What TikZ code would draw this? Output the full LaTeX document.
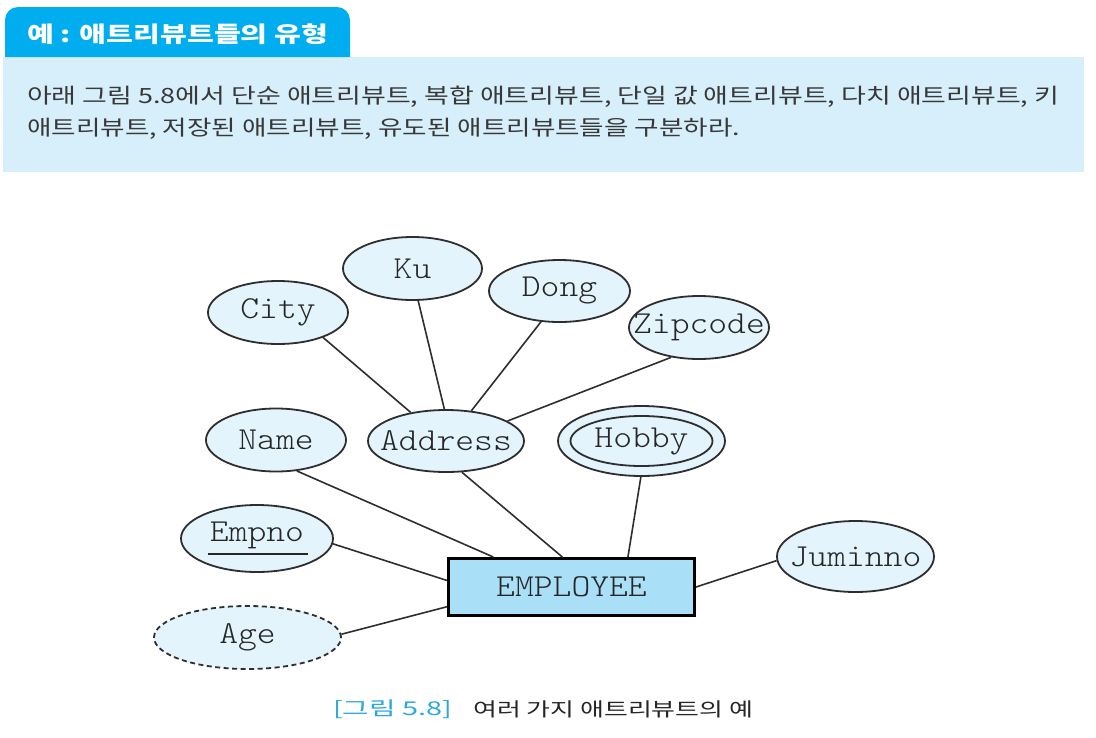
\documentclass[tikz,border=0pt]{standalone}
\usepackage{fontspec}
\usepackage{graphicx}
\usetikzlibrary{shapes.geometric}
\newfontfamily\kr{Noto Sans CJK KR}
\newfontfamily\erfont{lmmonolt10-regular.otf}[FakeStretch=1.12]
\newcommand\zw[1]{\makebox[0pt]{#1}}
\definecolor{tabblue}{HTML}{00AEEF}
\definecolor{boxblue}{HTML}{D6EFFB}
\definecolor{attrfill}{HTML}{E3F4FD}
\definecolor{entfill}{HTML}{A9DFF7}
\definecolor{edgecol}{HTML}{2E2E2E}
\definecolor{txtcol}{HTML}{383838}
\definecolor{capblue}{HTML}{29A8E0}
\begin{document}
\begin{tikzpicture}[x=1pt,y=-1pt,
  attr/.style={ellipse, draw=edgecol, line width=1.8pt, fill=attrfill, inner sep=0pt,
    font=\erfont\fontsize{32}{36}\selectfont, text=black!85},
  multi/.style={attr},
  derived/.style={attr, dash pattern=on 5pt off 3.5pt},
  entity/.style={rectangle, draw=black, line width=3pt, fill=entfill, inner sep=0pt,
    minimum width=246pt, minimum height=57pt, font=\erfont\fontsize{32}{36}\selectfont, text=black!85},
  conn/.style={draw=edgecol, line width=1.6pt},
  krtext/.style={inner sep=0pt, anchor=west, text=txtcol}
]
\useasboundingbox (0,0) rectangle (1096,737);

% header
\fill[boxblue] (3,57) rectangle (1084,172);
\fill[tabblue] (5,57) [rounded corners=13pt] -- (5,7) -- (350,7) [sharp corners] -- (350,57) -- cycle;
\node[krtext, text=white] (title) at (27,34)
  {\resizebox{301pt}{\height}{\kr\bfseries\fontsize{22}{26}\selectfont 예 : 애트리뷰트들의 유형}};
\node[krtext] (line1) at (27,97)
  {\resizebox{1032pt}{\height}{\kr\fontsize{21}{25}\selectfont 아래 그림 5.8에서 단순 애트리뷰트, 복합 애트리뷰트, 단일 값 애트리뷰트, 다치 애트리뷰트, 키}};
\node[krtext] (line2) at (27,129)
  {\resizebox{713pt}{\height}{\kr\fontsize{21}{25}\selectfont 애트리뷰트, 저장된 애트리뷰트, 유도된 애트리뷰트들을 구분하라.}};

% entity
\node[entity] (emp) at (571.5,587) {EMPLOYEE};

% attributes
\node[attr, minimum width=140pt, minimum height=63pt] (city) at (278,312.5) {\zw{City}};
\node[attr, minimum width=139pt, minimum height=63pt] (ku) at (412.5,268.5) {\zw{Ku}};
\node[attr, minimum width=141pt, minimum height=62pt] (dong) at (559.5,291) {\zw{Dong}};
\node[attr, minimum width=140pt, minimum height=63pt] (zip) at (699,327.5) {\zw{Zipcode}};
\node[attr, minimum width=140pt, minimum height=63pt] (name) at (276,440) {\zw{Name}};
\node[attr, minimum width=156pt, minimum height=62pt] (addr) at (446,441) {\zw{Address}};
\node[multi, minimum width=167pt, minimum height=70pt] (hobby) at (641.5,441) {\zw{Hobby}};
\node[ellipse, draw=edgecol, line width=1.8pt, inner sep=0pt, minimum width=142pt, minimum height=50pt] (hobbyin) at (hobby.center) {};
\node[attr, minimum width=152pt, minimum height=67pt] (empno) at (257,538.5)
  {\zw{\rlap{\hspace{-2pt}\raisebox{-13pt}{\rule{100pt}{1.8pt}}}Empno}};
\node[derived, minimum width=187pt, minimum height=63pt] (age) at (247.5,637.5) {\zw{Age}};
\node[attr, minimum width=157pt, minimum height=71pt] (jumin) at (855.5,556.5) {\zw{Juminno}};

% connectors
\draw[conn] (city.-29.5) -- (addr.141);
\draw[conn] (ku.-80) -- (addr.93.5);
\draw[conn] (dong.-121.8) -- (addr.50);
\draw[conn] (zip.-133.6) -- (addr.18);
\draw[conn] (name.-56.3) -- (emp.159.8);
\draw[conn] (addr.-63.4) -- (emp.107.6);
\draw[conn] (hobby.-91) -- (emp.28.4);
\draw[conn] (empno.-4.8) -- (emp.177.7);
\draw[conn] (age.2.1) -- (emp.-171.7);
\draw[conn] (jumin.-177.5) -- (emp.0.9);

% caption
\node[krtext, text=capblue] (capnum) at (333,709)
  {\resizebox{119pt}{\height}{\kr\fontsize{19}{23}\selectfont [그림 5.8]}};
\node[krtext, text=black!85] (captext) at (473,709)
  {\resizebox{280pt}{\height}{\kr\fontsize{19}{23}\selectfont 여러 가지 애트리뷰트의 예}};
\end{tikzpicture}
\end{document}
